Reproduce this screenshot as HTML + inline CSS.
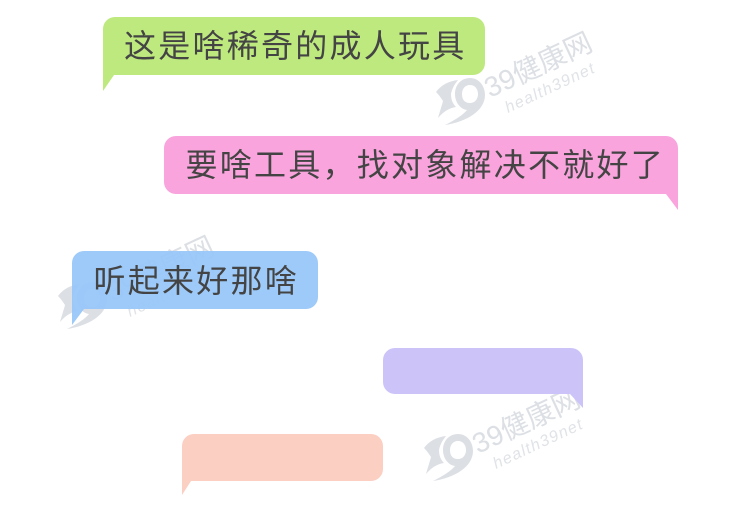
<!DOCTYPE html>
<html lang="zh">
<head>
<meta charset="utf-8">
<style>
html,body{margin:0;padding:0;background:#fff;width:750px;height:511px;overflow:hidden}
svg{display:block}
.t{font-family:"Liberation Sans","Noto Sans CJK SC",sans-serif;font-size:32px;fill:#444;letter-spacing:2.25px}
.w1{font-family:"Liberation Sans","Noto Sans CJK SC",sans-serif;font-size:28px;fill:#dcdfe4}
.w2{font-family:"Liberation Sans",sans-serif;font-size:16px;font-style:italic;fill:#e0e3e7;letter-spacing:1.3px}
</style>
</head>
<body>
<svg width="750" height="511" viewBox="0 0 750 511" xmlns="http://www.w3.org/2000/svg">
  <!-- watermark 1 -->
  <g>
    <path fill="#dcdfe4" fill-rule="evenodd" d="M470 78C479 78 485 86 485 95C485 111 466 122 445 125C455 120 463 115 467 110C460 109 455 102 455 94C455 85 461 78 470 78ZM470 85C465 85 462 89 462 94C462 100 465 103 470 103C475 103 478 99 478 94C478 89 475 85 470 85Z"/>
    <path fill="#dcdfe4" d="M436 92C441 85 449 81 458 80C454 85 452 89 451 94C451 100 453 104 456 107C449 108 443 112 438 118C440 111 442 105 443 101C441 98 439 95 436 92Z"/>
    <text class="w1" transform="translate(490 98) rotate(-25)">39健康网</text>
    <text class="w2" transform="translate(508 113) rotate(-25)">health39net</text>
  </g>
  <!-- watermark 2 -->
  <g transform="translate(-12 356)">
    <path fill="#dcdfe4" fill-rule="evenodd" d="M470 78C479 78 485 86 485 95C485 111 466 122 445 125C455 120 463 115 467 110C460 109 455 102 455 94C455 85 461 78 470 78ZM470 85C465 85 462 89 462 94C462 100 465 103 470 103C475 103 478 99 478 94C478 89 475 85 470 85Z"/>
    <path fill="#dcdfe4" d="M436 92C441 85 449 81 458 80C454 85 452 89 451 94C451 100 453 104 456 107C449 108 443 112 438 118C440 111 442 105 443 101C441 98 439 95 436 92Z"/>
    <text class="w1" transform="translate(490 98) rotate(-25)">39健康网</text>
    <text class="w2" transform="translate(508 113) rotate(-25)">health39net</text>
  </g>
  <!-- watermark 3 (behind blue bubble) -->
  <g transform="translate(-378 204)">
    <path fill="#dcdfe4" fill-rule="evenodd" d="M470 78C479 78 485 86 485 95C485 111 466 122 445 125C455 120 463 115 467 110C460 109 455 102 455 94C455 85 461 78 470 78ZM470 85C465 85 462 89 462 94C462 100 465 103 470 103C475 103 478 99 478 94C478 89 475 85 470 85Z"/>
    <path fill="#dcdfe4" d="M436 92C441 85 449 81 458 80C454 85 452 89 451 94C451 100 453 104 456 107C449 108 443 112 438 118C440 111 442 105 443 101C441 98 439 95 436 92Z"/>
    <text class="w1" transform="translate(490 98) rotate(-25)">39健康网</text>
    <text class="w2" transform="translate(508 113) rotate(-25)">health39net</text>
  </g>

  <!-- green -->
  <path fill="#bee97e" d="M115 17H473A12 12 0 0 1 485 29V63A12 12 0 0 1 473 75H114L103 91V29A12 12 0 0 1 115 17Z"/>
  <text class="t" x="124" y="57">这是啥稀奇的成人玩具</text>

  <!-- pink -->
  <path fill="#f9a4dc" d="M176 136H666A12 12 0 0 1 678 148V210L666 194H176A12 12 0 0 1 164 182V148A12 12 0 0 1 176 136Z"/>
  <text class="t" x="185.5" y="176">要啥工具，找对象解决不就好了</text>

  <!-- blue -->
  <path fill="#97c7f9" fill-opacity="0.94" d="M84 251H306A12 12 0 0 1 318 263V297A12 12 0 0 1 306 309H84L72 325V263A12 12 0 0 1 84 251Z"/>
  <text class="t" x="93.5" y="292">听起来好那啥</text>

  <!-- purple -->
  <path fill="#ccc4f9" d="M395 348H571A12 12 0 0 1 583 360V408L570 394H395A12 12 0 0 1 383 382V360A12 12 0 0 1 395 348Z"/>

  <!-- peach -->
  <path fill="#fbcfc2" d="M194 434H371A12 12 0 0 1 383 446V469A12 12 0 0 1 371 481H191L182 495V446A12 12 0 0 1 194 434Z"/>
</svg>
</body>
</html>
